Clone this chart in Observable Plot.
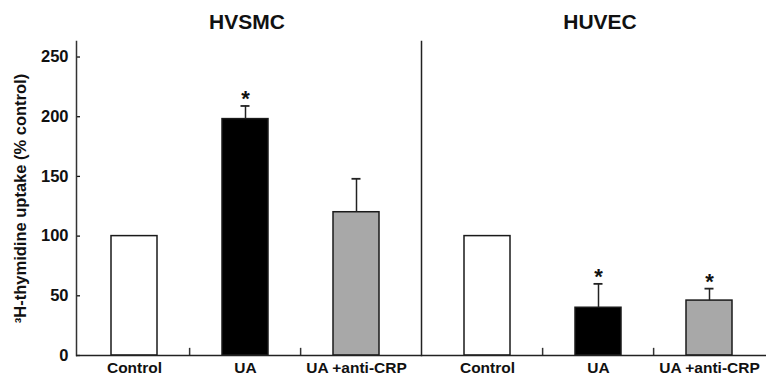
<!DOCTYPE html>
<html>
<head>
<meta charset="utf-8">
<script src="https://cdn.jsdelivr.net/npm/d3@7"></script>
<script src="https://cdn.jsdelivr.net/npm/@observablehq/plot@0.6"></script>
<style>
  body { margin: 0; background: #fff; }
  #chart svg { display: block; }
</style>
</head>
<body>
<div id="chart"></div>
<script>
// ---- data ----
const cells = ["HVSMC", "HVSMC", "HVSMC", "HUVEC", "HUVEC", "HUVEC"];
const treatments = ["Control", "UA", "UA +anti-CRP", "Control", "UA", "UA +anti-CRP"];
const uptake = [100, 198, 120, 100, 40, 46];
const sem = [0, 11, 28, 0, 20, 10];
const significant = [false, true, false, false, true, true];
const cellOrder = ["HVSMC", "HUVEC"];
const treatmentOrder = ["Control", "UA", "UA +anti-CRP"];
const barColors = ["#ffffff", "#000000", "#a8a8a8"];
const yTicks = [0, 50, 100, 150, 200, 250];
const yLabel = "³H-thymidine uptake (% control)";

const data = cells.map((c, i) => ({
  cell: c, treatment: treatments[i], uptake: uptake[i], sem: sem[i],
  top: uptake[i] + sem[i], sig: significant[i]
}));

// layout
const W = 767, H = 387, ML = 76, MR = 0, MT = 41, MB = 32;
const fxPad = 0.0453;
const xPadInner = 0.588, xPadOuter = 0.304;
const facetStep = (W - ML - MR) / (2 - fxPad);
const facetW = facetStep * (1 - fxPad);
const xStep = facetW / (3 - xPadInner + 2 * xPadOuter);
const gapHalf = (facetStep - facetW) / 2;

const font = "'Liberation Sans', Arial, Helvetica, sans-serif";

const chart = Plot.plot({
  width: W, height: H,
  marginLeft: ML, marginRight: MR, marginTop: MT, marginBottom: MB,
  style: { fontFamily: font, color: "#111", background: "#fff" },
  fx: { domain: cellOrder, paddingInner: fxPad, paddingOuter: 0, label: null },
  x: { domain: treatmentOrder, paddingInner: xPadInner, paddingOuter: xPadOuter, label: null },
  y: { domain: [0, 263], label: null },
  color: { domain: treatmentOrder, range: barColors },
  marks: [
    Plot.axisFx({ anchor: "top", tickSize: 0, tickPadding: 13, fontSize: 21, fontWeight: "bold", label: null, dx: 2 }),
    Plot.axisX({ anchor: "bottom", tickSize: 0, tickPadding: 6, fontSize: 15.5, fontWeight: "bold", label: null }),
    Plot.axisY({
      anchor: "left", ticks: yTicks, tickSize: -4, tickPadding: 12,
      fontSize: 16.5, fontWeight: "bold", strokeWidth: 1.3,
      label: yLabel, labelAnchor: "center", labelOffset: 62, labelArrow: "none"
    }),
    // y axis line (left facet only)
    Plot.frame({ anchor: "left", facetAnchor: "left", stroke: "#333", strokeWidth: 1.5 }),
    // divider between the panels
    Plot.frame({ anchor: "right", facetAnchor: "left", dx: gapHalf, stroke: "#222", strokeWidth: 1.5 }),
    // bars
    Plot.barY(data, {
      fx: "cell", x: "treatment", y: "uptake", fill: "treatment",
      stroke: "#1a1a1a", strokeWidth: 1.5
    }),
    // error bars (upper only)
    Plot.ruleX(data.filter(d => d.sem > 0), {
      fx: "cell", x: "treatment", y1: "uptake", y2: "top", stroke: "#222", strokeWidth: 1.5
    }),
    Plot.tickY(data.filter(d => d.sem > 0), {
      fx: "cell", x: "treatment", y: "top", insetLeft: 18.5, insetRight: 18.5,
      stroke: "#222", strokeWidth: 1.8
    }),
    // significance stars
    Plot.text(data.filter(d => d.sig), {
      fx: "cell", x: "treatment", y: "top", text: () => "*",
      fontSize: 22, fontWeight: "bold", lineAnchor: "bottom", dy: 0, fill: "#111"
    }),
    // x axis tick marks between categories
    Plot.ruleX(data.filter(d => d.treatment !== "Control"), {
      fx: "cell", x: "treatment", y1: 0, y2: 6, dx: -xStep / 2, stroke: "#333", strokeWidth: 1.5
    }),
    // baseline
    Plot.ruleY([0], { facetAnchor: "left", insetRight: -gapHalf, stroke: "#222", strokeWidth: 1.5 }),
    Plot.ruleY([0], { facetAnchor: "right", insetLeft: -gapHalf, stroke: "#222", strokeWidth: 1.5 })
  ]
});

document.getElementById("chart").appendChild(chart);
</script>
</body>
</html>
